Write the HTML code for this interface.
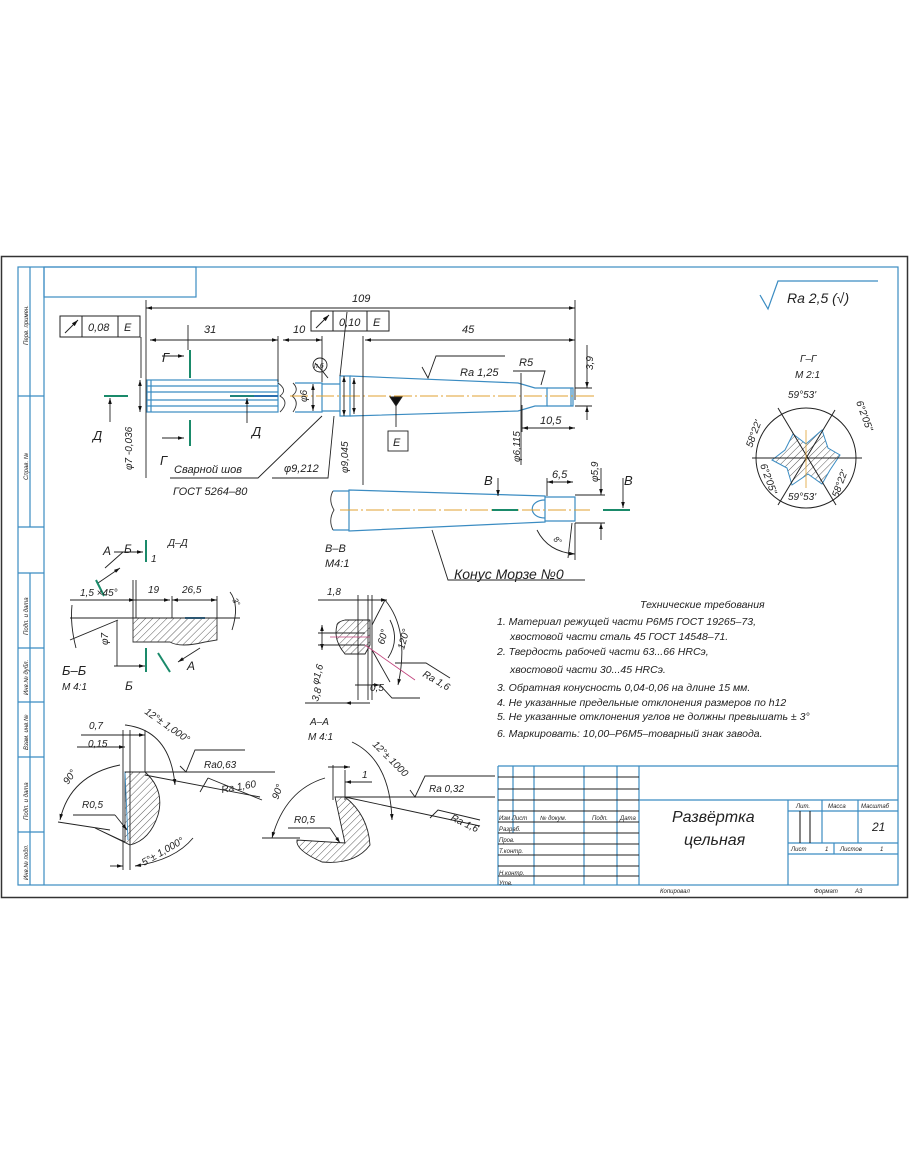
<!DOCTYPE html>
<html><head><meta charset="utf-8"><style>
html,body{margin:0;padding:0;background:#fff;}
svg{display:block}
text{font-family:"Liberation Sans",sans-serif;font-style:italic;fill:#222;}
</style></head><body>
<svg width="910" height="1155" viewBox="0 0 910 1155" xmlns="http://www.w3.org/2000/svg">
<defs>
<pattern id="h" width="5" height="5" patternUnits="userSpaceOnUse" patternTransform="rotate(45)"><line x1="0" y1="0" x2="0" y2="5" stroke="#333" stroke-width="0.8"/></pattern>
<marker id="a" viewBox="0 0 10 6" refX="10" refY="3" markerWidth="7" markerHeight="4" orient="auto-start-reverse"><path d="M0,0L10,3L0,6z" fill="#111"/></marker>
</defs>
<!-- outer frame -->
<rect x="1.5" y="256.5" width="906" height="641" fill="none" stroke="#333" stroke-width="1.5"/>
<g fill="none" stroke="#3b8cc2" stroke-width="1.2">
<rect x="18" y="267" width="880" height="618"/>
<line x1="44" y1="267" x2="44" y2="885"/>
<line x1="30" y1="267" x2="30" y2="527"/><line x1="18" y1="527" x2="44" y2="527"/><line x1="18" y1="396" x2="44" y2="396"/>
<line x1="30" y1="573" x2="30" y2="885"/><line x1="18" y1="573" x2="44" y2="573"/>
<line x1="18" y1="648" x2="44" y2="648"/><line x1="18" y1="702" x2="44" y2="702"/><line x1="18" y1="757" x2="44" y2="757"/><line x1="18" y1="832" x2="44" y2="832"/>
<rect x="44" y="267" width="152" height="30"/>
<!-- title block -->
<line x1="498" y1="766" x2="898" y2="766"/><line x1="498" y1="766" x2="498" y2="885"/>
<line x1="639" y1="766" x2="639" y2="885"/><line x1="639" y1="800" x2="898" y2="800"/>
<line x1="788" y1="800" x2="788" y2="885"/>
<line x1="822" y1="800" x2="822" y2="843"/><line x1="858" y1="800" x2="858" y2="843"/>
<line x1="788" y1="811" x2="898" y2="811"/><line x1="788" y1="843" x2="898" y2="843"/><line x1="788" y1="854" x2="898" y2="854"/>
<line x1="834" y1="843" x2="834" y2="854"/>
<line x1="513" y1="766" x2="513" y2="833"/><line x1="534" y1="766" x2="534" y2="885"/><line x1="584" y1="766" x2="584" y2="885"/><line x1="617" y1="766" x2="617" y2="885"/>
</g>
<g stroke="#222" stroke-width="1.1">
<line x1="498" y1="777" x2="639" y2="777"/><line x1="498" y1="789" x2="639" y2="789"/><line x1="498" y1="800" x2="639" y2="800"/>
<line x1="498" y1="811" x2="639" y2="811"/><line x1="498" y1="822" x2="639" y2="822"/><line x1="498" y1="833" x2="639" y2="833"/>
<line x1="498" y1="844" x2="639" y2="844"/><line x1="498" y1="855" x2="639" y2="855"/><line x1="498" y1="866" x2="639" y2="866"/><line x1="498" y1="876" x2="639" y2="876"/>
<line x1="800" y1="811" x2="800" y2="843"/><line x1="810" y1="811" x2="810" y2="843"/>
</g>
<g font-size="6">
<text x="499" y="820">Изм Лист</text><text x="540" y="820">№ докум.</text><text x="592" y="820">Подп.</text><text x="620" y="820">Дата</text>
<text x="499" y="831">Разраб.</text><text x="499" y="842">Пров.</text><text x="499" y="853">Т.контр.</text><text x="499" y="875">Н.контр.</text><text x="499" y="885">Утв.</text>
<text x="796" y="808">Лит.</text><text x="828" y="808">Масса</text><text x="861" y="808">Масштаб</text>
<text x="791" y="851">Лист</text><text x="825" y="851">1</text><text x="840" y="851">Листов</text><text x="880" y="851">1</text>
<text x="660" y="893">Копировал</text><text x="814" y="893">Формат</text><text x="855" y="893">А3</text>
</g>
<text x="872" y="831" font-size="12">21</text>
<text x="672" y="822" font-size="16">Развёртка</text>
<text x="684" y="845" font-size="16">цельная</text>
<g font-size="6" fill="#444">
<text transform="translate(28,345) rotate(-90)">Перв. примен.</text>
<text transform="translate(28,480) rotate(-90)">Справ. №</text>
<text transform="translate(28,635) rotate(-90)">Подп. и дата</text>
<text transform="translate(28,695) rotate(-90)">Инв.№ дубл.</text>
<text transform="translate(28,750) rotate(-90)">Взам. инв.№</text>
<text transform="translate(28,820) rotate(-90)">Подп. и дата</text>
<text transform="translate(28,880) rotate(-90)">Инв.№ подл.</text>
</g>

<!-- roughness top right -->
<path d="M760,295 L768,309 L778,281 L878,281" fill="none" stroke="#3b8cc2" stroke-width="1.2"/>
<text x="787" y="303" font-size="14">Ra 2,5 (√)</text>

<!-- main shaft -->
<g fill="none" stroke="#3b8cc2" stroke-width="1.2">
<rect x="147" y="380" width="131" height="32"/>
<line x1="147" y1="386" x2="278" y2="386"/><line x1="147" y1="392" x2="278" y2="392"/><line x1="147" y1="400" x2="278" y2="400"/><line x1="147" y1="406" x2="278" y2="406"/>
<line x1="151" y1="380" x2="151" y2="412"/>
<path d="M295,383 L322,383 L322,412 L295,412"/>
<path d="M340,376 L350,376 L350,416 L340,416z"/>
<path d="M350,376 L518,383 L535,388 L547,388 L547,406 L535,406 L518,411 L350,416"/>
<path d="M547,388 L573,388 L573,406 L547,406"/><line x1="571" y1="388" x2="571" y2="406"/>
<path d="M322,384 L340,384 M322,411 L340,411"/>
<!-- morse taper -->
<path d="M349,490 L545,496 L545,522 L349,531 z"/>
<path d="M333,491 L349,491 M333,530 L349,530"/>
<path d="M545,497 L575,497 L575,521 L545,521"/>
<path d="M545,500 C528,500 528,518 545,518"/>
</g>
<path d="M278,383 Q288,390 280,396 Q290,402 280,412 M293,383 Q300,390 292,396 Q300,402 293,412" fill="none" stroke="#333" stroke-width="0.9"/>
<path d="M333,491 Q328,500 334,510 Q328,520 333,530" fill="none" stroke="#333" stroke-width="0.9"/>
<g stroke="#e0a030" stroke-width="1" stroke-dasharray="18,3,2,3">
<line x1="290" y1="396" x2="595" y2="396"/><line x1="340" y1="510" x2="590" y2="510"/><line x1="230" y1="396" x2="278" y2="396" stroke="#3b8cc2"/>
</g>
<line x1="230" y1="396" x2="278" y2="396" stroke="#2a6fb0" stroke-width="2"/>

<!-- dimensions main -->
<g stroke="#222" stroke-width="0.9" fill="none">
<line x1="146" y1="300" x2="146" y2="478"/>
<line x1="575" y1="300" x2="575" y2="400"/>
<line x1="146" y1="308" x2="575" y2="308" marker-start="url(#a)" marker-end="url(#a)"/>
<line x1="150" y1="340" x2="278" y2="340" marker-start="url(#a)" marker-end="url(#a)"/>
<line x1="278" y1="336" x2="278" y2="382"/>
<line x1="283" y1="340" x2="322" y2="340" marker-start="url(#a)" marker-end="url(#a)"/>
<line x1="322" y1="336" x2="322" y2="382"/>
<line x1="363" y1="336" x2="363" y2="485"/>
<line x1="365" y1="340" x2="575" y2="340" marker-start="url(#a)" marker-end="url(#a)"/>
<line x1="140" y1="380" x2="140" y2="412" marker-start="url(#a)" marker-end="url(#a)"/>
<line x1="313" y1="384" x2="313" y2="411" marker-start="url(#a)" marker-end="url(#a)"/>
<line x1="344" y1="376" x2="344" y2="416" marker-start="url(#a)" marker-end="url(#a)"/>
<line x1="354" y1="378" x2="354" y2="414" marker-start="url(#a)" marker-end="url(#a)"/>
<line x1="587" y1="345" x2="587" y2="388" marker-end="url(#a)"/><line x1="587" y1="420" x2="587" y2="406" marker-end="url(#a)"/>
<line x1="575" y1="388" x2="592" y2="388"/><line x1="575" y1="406" x2="592" y2="406"/>
<line x1="522" y1="428" x2="575" y2="428" marker-start="url(#a)" marker-end="url(#a)"/>
<line x1="522" y1="405" x2="522" y2="432"/>
<line x1="521" y1="373" x2="521" y2="465"/>
<path d="M513,371 L545,371 L541,385"/>
<path d="M422,367 L428,378 L436,356 L505,356"/>
<line x1="396" y1="405" x2="396" y2="427"/><path d="M390,397 L402,397 L396,406z" fill="#111"/>
<rect x="388" y="431" width="20" height="20"/>
<path d="M322,416 L258,478 L170,478"/>
<path d="M334,416 L328,478 L272,478"/>
<path d="M347,312 L340,376"/>
<path d="M315,363 Q322,370 328,378"/>
<circle cx="320" cy="365" r="7"/>
<line x1="141" y1="337" x2="141" y2="378"/>
<!-- lower dims -->
<line x1="547" y1="478" x2="547" y2="496"/>
<line x1="547" y1="482" x2="573" y2="482" marker-start="url(#a)" marker-end="url(#a)"/>
<line x1="575" y1="495" x2="605" y2="495"/><line x1="575" y1="523" x2="605" y2="523"/>
<line x1="601" y1="468" x2="601" y2="495" marker-end="url(#a)"/><line x1="601" y1="540" x2="601" y2="523" marker-end="url(#a)"/>
<path d="M537,530 Q548,552 575,554" marker-end="url(#a)"/>
<line x1="575" y1="523" x2="575" y2="560"/><line x1="572" y1="523" x2="568" y2="558"/>
<line x1="498" y1="478" x2="498" y2="496" marker-end="url(#a)"/>
<line x1="623" y1="478" x2="623" y2="508" marker-end="url(#a)"/>
<path d="M432,530 L448,580 L585,580"/>
<line x1="188" y1="325" x2="188" y2="350"/>
<line x1="162" y1="356" x2="184" y2="356" marker-end="url(#a)"/>
<line x1="162" y1="438" x2="184" y2="438" marker-end="url(#a)"/>
<line x1="110" y1="422" x2="110" y2="398" marker-end="url(#a)"/>
<line x1="247" y1="423" x2="247" y2="398" marker-end="url(#a)"/>
</g>
<g stroke="#1a8a6a" stroke-width="2">
<line x1="190" y1="350" x2="190" y2="378"/><line x1="190" y1="420" x2="190" y2="446"/>
<line x1="104" y1="396" x2="128" y2="396"/><line x1="230" y1="396" x2="254" y2="396" stroke-width="1.5"/>
<line x1="492" y1="510" x2="518" y2="510"/><line x1="603" y1="510" x2="630" y2="510"/>
</g>
<g fill="none" stroke="#222" stroke-width="1">
<rect x="60" y="316" width="80" height="21"/><line x1="82" y1="316" x2="82" y2="337"/><line x1="118" y1="316" x2="118" y2="337"/>
<line x1="65" y1="333" x2="78" y2="320" marker-end="url(#a)"/>
<rect x="311" y="311" width="78" height="20"/><line x1="333" y1="311" x2="333" y2="331"/><line x1="367" y1="311" x2="367" y2="331"/>
<line x1="316" y1="328" x2="329" y2="315" marker-end="url(#a)"/>
</g>
<g font-size="11">
<text x="88" y="331">0,08</text><text x="124" y="331">E</text>
<text x="339" y="326">0,10</text><text x="373" y="326">E</text>
<text x="352" y="302">109</text><text x="204" y="333">31</text><text x="293" y="333">10</text><text x="462" y="333">45</text>
<text x="393" y="446">E</text>
<text x="460" y="376">Ra 1,25</text><text x="519" y="366">R5</text>
<text x="540" y="424">10,5</text><text x="552" y="478">6,5</text>
<text x="174" y="473">Сварной шов</text><text x="173" y="495">ГОСТ 5264–80</text>
<text x="284" y="472">φ9,212</text>
<text x="454" y="579" font-size="14">Конус Морзе №0</text>
<text x="93" y="440" font-size="13" font-style="normal">Д</text><text x="252" y="436" font-size="13" font-style="normal">Д</text>
<text x="160" y="465" font-size="13" font-style="normal">Г</text><text x="162" y="362" font-size="13" font-style="normal">Г</text>
<text x="484" y="485" font-size="13" font-style="normal">В</text><text x="624" y="485" font-size="13" font-style="normal">В</text>
<text x="325" y="552">В–В</text><text x="325" y="567">М4:1</text>
</g>
<g font-size="10">
<text transform="translate(132,470) rotate(-90)">φ7 -0,036</text>
<text transform="translate(348,473) rotate(-90)">φ9,045</text>
<text transform="translate(520,462) rotate(-90)">φ6,115</text>
<text transform="translate(598,482) rotate(-90)">φ5,9</text>
<text transform="translate(593,370) rotate(-90)">3,9</text>
<text transform="translate(307,402) rotate(-90)">φ6</text>
<text x="314" y="368" font-size="7">п.6</text>
<text x="553" y="540" font-size="8" transform="rotate(40,553,540)">8°</text>
</g>

<!-- Г-Г section -->
<text x="800" y="362" font-size="10">Г–Г</text><text x="795" y="378" font-size="10">М 2:1</text>
<text x="788" y="398" font-size="10">59°53'</text><text x="788" y="500" font-size="10">59°53'</text>
<circle cx="806" cy="458" r="50" fill="none" stroke="#222" stroke-width="1"/>
<path d="M793,434 L806,444 L822,430 L828,448 L840,455 L830,470 L822,484 L808,474 L792,485 L787,468 L772,460 L785,450 z" fill="url(#h)" stroke="#3b8cc2" stroke-width="1"/>
<g stroke="#222" stroke-width="1"><line x1="778" y1="408" x2="836" y2="505"/><line x1="835" y1="410" x2="778" y2="505"/><line x1="752" y1="458" x2="862" y2="458"/></g>
<line x1="806" y1="430" x2="806" y2="488" stroke="#e0a030" stroke-width="0.8"/>
<g font-size="10"><text transform="translate(752,448) rotate(-70)">58°22'</text><text transform="translate(856,402) rotate(70)">6°2'05"</text>
<text transform="translate(760,465) rotate(70)">6°2'05"</text><text transform="translate(838,498) rotate(-70)">58°22'</text></g>

<!-- Б-Б section -->
<g stroke="#222" stroke-width="0.9" fill="none">
<path d="M133,618 L217,618 L217,640 L205,642 Q180,648 170,642 L133,642 z" fill="url(#h)" stroke="#333"/>
<line x1="185" y1="618" x2="205" y2="618" stroke="#3b8cc2" stroke-width="2"/>
<line x1="70" y1="618" x2="240" y2="618"/>
<line x1="70" y1="600" x2="135" y2="600" marker-end="url(#a)"/><line x1="135" y1="600" x2="170" y2="600" marker-end="url(#a)"/>
<line x1="172" y1="600" x2="217" y2="600" marker-start="url(#a)" marker-end="url(#a)"/>
<line x1="133" y1="580" x2="133" y2="618"/><line x1="136" y1="580" x2="136" y2="618"/><line x1="172" y1="596" x2="172" y2="618"/><line x1="217" y1="596" x2="217" y2="618"/>
<line x1="70" y1="640" x2="118" y2="620"/>
<line x1="117" y1="620" x2="117" y2="666"/><line x1="114" y1="666" x2="145" y2="666" marker-end="url(#a)"/>
<path d="M230,592 Q240,605 232,630"/>
<path d="M72,605 Q70,625 76,648"/>
<line x1="114" y1="552" x2="143" y2="552" marker-end="url(#a)"/>
<line x1="105" y1="568" x2="123" y2="552"/>
<line x1="98" y1="583" x2="120" y2="568" marker-end="url(#a)"/>
<line x1="200" y1="648" x2="178" y2="662" marker-end="url(#a)"/>
</g>
<g stroke="#1a8a6a" stroke-width="2"><line x1="146" y1="540" x2="146" y2="562"/><line x1="96" y1="580" x2="104" y2="596"/><line x1="146" y1="648" x2="146" y2="672"/><line x1="158" y1="653" x2="170" y2="672"/></g>
<g font-size="10">
<text x="80" y="596">1,5 ×45°</text><text x="148" y="593">19</text><text x="182" y="593">26,5</text>
<text x="151" y="562">1</text><text x="168" y="546">Д–Д</text>
<text transform="translate(108,645) rotate(-90)">φ7</text>
<text x="62" y="675" font-size="13">Б–Б</text><text x="62" y="690">М 4:1</text>
<text x="125" y="690" font-size="12" font-style="normal">Б</text><text x="124" y="553" font-size="12" font-style="normal">Б</text>
<text x="103" y="555" font-size="12" font-style="normal">А</text><text x="187" y="670" font-size="12" font-style="normal">А</text>
<text x="232" y="600" font-size="8" transform="rotate(60,232,600)">3°</text>
</g>

<!-- В-В detail -->
<g stroke="#222" stroke-width="0.9" fill="none">
<path d="M337,625 Q333,640 345,654 L365,654 L370,645 L370,620 L345,620 Q337,622 337,625z" fill="url(#h)"/>
<line x1="318" y1="600" x2="387" y2="600" marker-end="url(#a)"/>
<line x1="358" y1="595" x2="358" y2="700"/><line x1="368" y1="595" x2="368" y2="700"/><line x1="372" y1="595" x2="372" y2="700"/>
<path d="M372,625 L385,600 M372,650 L390,682"/>
<path d="M385,600 Q410,630 398,685" marker-end="url(#a)"/>
<path d="M390,620 Q400,640 388,658"/>
<line x1="322" y1="625" x2="322" y2="650" marker-start="url(#a)" marker-end="url(#a)"/>
<line x1="318" y1="633" x2="365" y2="633"/><line x1="318" y1="645" x2="365" y2="645"/>
<line x1="305" y1="703" x2="370" y2="703"/><line x1="345" y1="703" x2="370" y2="703" marker-start="url(#a)"/>
<line x1="355" y1="685" x2="380" y2="685" marker-end="url(#a)"/>
<path d="M380,685 L392,698 L420,698"/>
<path d="M395,663 L426,663 L450,678"/>
</g>
<line x1="330" y1="637" x2="370" y2="637" stroke="#c0407a" stroke-width="0.8"/>
<line x1="365" y1="645" x2="415" y2="680" stroke="#c0407a" stroke-width="0.8"/>
<g font-size="10"><text x="327" y="595">1,8</text><text transform="translate(384,645) rotate(-75)">60°</text><text transform="translate(404,650) rotate(-75)">120°</text>
<text transform="translate(318,685) rotate(-75)">φ1,6</text><text transform="translate(318,702) rotate(-75)">3,8</text><text x="370" y="691">0,5</text>
<text x="422" y="676" transform="rotate(30,422,676)">Ra 1,6</text>
<text x="310" y="725">А–А</text><text x="308" y="740">М 4:1</text></g>

<!-- lower-left tooth -->
<g stroke="#222" stroke-width="0.9" fill="none">
<path d="M125,772 L145,772 Q165,790 158,815 Q150,840 130,845 L95,828 L125,842 z" fill="url(#h)"/>
<path d="M125,772 L128,840" stroke="#3b8cc2"/>
<line x1="81" y1="735" x2="145" y2="735" marker-end="url(#a)"/><line x1="77" y1="747" x2="125" y2="747" marker-end="url(#a)"/>
<line x1="123" y1="730" x2="123" y2="870"/><line x1="130" y1="730" x2="130" y2="870"/><line x1="145" y1="730" x2="145" y2="772"/>
<line x1="125" y1="772" x2="275" y2="772"/><line x1="145" y1="775" x2="260" y2="797"/>
<path d="M125,725 Q170,730 175,785" marker-end="url(#a)"/>
<path d="M120,765 Q70,775 60,820" marker-end="url(#a)"/>
<line x1="58" y1="822" x2="110" y2="830"/>
<line x1="73" y1="815" x2="115" y2="815"/><line x1="115" y1="815" x2="127" y2="830" marker-end="url(#a)"/>
<line x1="110" y1="866" x2="123" y2="866" marker-end="url(#a)"/>
<path d="M193,838 Q175,860 135,866" marker-end="url(#a)"/>
<path d="M180,766 L186,772 L195,750 L245,750"/>
<path d="M200,792 L208,778 M208,778 L262,800"/>
</g>
<g font-size="10"><text x="89" y="729">0,7</text><text x="88" y="747">0,15</text><text x="82" y="808">R0,5</text>
<text transform="translate(68,785) rotate(-55)">90°</text><text transform="translate(144,713) rotate(35)">12°± 1,000°</text>
<text x="204" y="768">Ra0,63</text><text x="222" y="793" transform="rotate(-10,222,793)">Ra 1,60</text>
<text transform="translate(144,866) rotate(-30)">5°± 1,000°</text></g>

<!-- А-А tooth -->
<g stroke="#222" stroke-width="0.9" fill="none">
<path d="M335,797 L345,797 Q368,815 370,845 Q355,865 322,862 Q295,850 297,840 L345,843 z" fill="url(#h)"/>
<line x1="328" y1="767" x2="350" y2="767" marker-end="url(#a)"/><line x1="372" y1="782" x2="345" y2="782" marker-end="url(#a)"/>
<line x1="333" y1="765" x2="333" y2="800"/><line x1="345" y1="770" x2="345" y2="800"/>
<line x1="335" y1="797" x2="495" y2="797"/><line x1="345" y1="797" x2="480" y2="826"/>
<path d="M352,742 Q390,760 392,820" marker-end="url(#a)"/>
<path d="M325,778 Q285,790 272,838" marker-end="url(#a)"/>
<line x1="262" y1="838" x2="300" y2="838"/>
<line x1="288" y1="828" x2="330" y2="828"/><line x1="330" y1="828" x2="340" y2="843" marker-end="url(#a)"/>
<path d="M410,790 L415,797 L425,776 L495,776"/>
<path d="M430,818 L438,810 L480,820"/>
</g>
<g font-size="10"><text x="362" y="778">1</text><text x="294" y="823">R0,5</text>
<text transform="translate(278,800) rotate(-70)">90°</text><text transform="translate(372,745) rotate(45)">12°± 1000</text>
<text x="429" y="792">Ra 0,32</text><text x="450" y="820" transform="rotate(25,450,820)">Ra 1,6</text></g>

<!-- technical requirements -->
<g font-size="10.5">
<text x="640" y="608">Технические требования</text>
<text x="497" y="625">1. Материал режущей части Р6М5 ГОСТ 19265–73,</text>
<text x="510" y="640">хвостовой части сталь 45 ГОСТ 14548–71.</text>
<text x="497" y="655">2. Твердость рабочей части 63...66 HRCэ,</text>
<text x="510" y="673">хвостовой части 30...45 HRCэ.</text>
<text x="497" y="691">3. Обратная конусность 0,04-0,06 на длине 15 мм.</text>
<text x="497" y="706">4. Не указанные предельные отклонения размеров по h12</text>
<text x="497" y="720">5. Не указанные отклонения углов не должны превышать ± 3°</text>
<text x="497" y="737">6. Маркировать: 10,00–Р6М5–товарный знак завода.</text>
</g>
</svg>
</body></html>
